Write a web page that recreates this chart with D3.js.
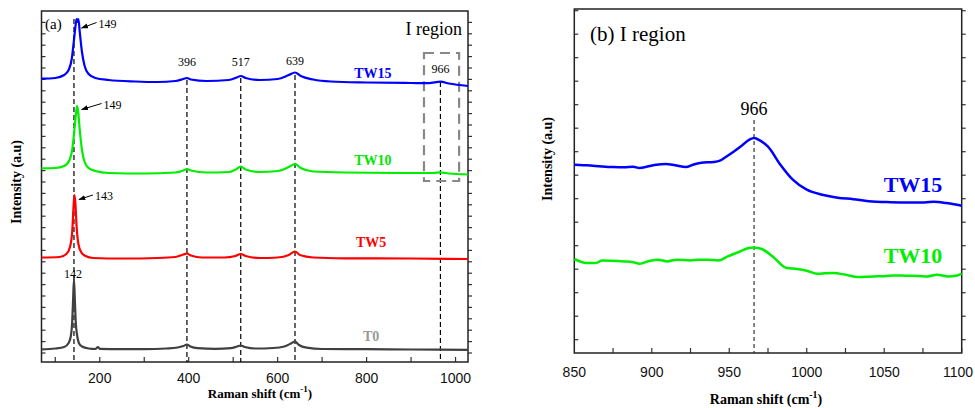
<!DOCTYPE html>
<html>
<head>
<meta charset="utf-8">
<script src="https://cdn.jsdelivr.net/npm/d3@7"></script>
<style>
  body { margin: 0; background: #fff; }
  svg { display: block; }
  .serif { font-family: "Liberation Serif", "Times New Roman", serif; }
  .sans { font-family: "Liberation Sans", Arial, sans-serif; }
</style>
</head>
<body>
<svg id="chart" width="975" height="408"></svg>
<script>
// ---------------- data : panel (a), [Raman shift, intensity a.u.] ----------------
const t0 = [[69,12.7],[100,13.5],[120,15],[130,19],[135,26],[138,40],[140,62],[142,83],[144,62],[146,40],[149,27],
  [153,19],[160,15.5],[175,13.5],[190,13],[196,15],[200,13.2],[250,12.8],[300,12.8],[350,13.5],[375,14.5],[388,16],
  [396,17.5],[404,15.5],[420,13.8],[460,13.2],[495,13.8],[509,15.5],[517,16.5],[526,15],[550,13.5],[590,14],
  [615,15.5],[630,18.5],[639,20.5],[648,17],[665,14.3],[700,13],[800,12.8],[900,12.5],[1028,12.2]];
const tw5 = [[69,104.5],[110,105],[125,108],[133,115],[138,130],[141,155],[143,167],[145,160],[148,135],[152,118],
  [158,110],[168,106],[185,104],[250,103.5],[330,104],[370,105],[388,107.5],[396,108.5],[405,106.5],[430,104.5],
  [480,104.5],[505,106],[517,108],[528,106],[560,104],[600,104.5],[625,107],[639,110.5],[650,107],[680,104.5],
  [750,103.7],[900,103.5],[1028,103]];
const tw10 = [[69,193.7],[100,194],[120,196],[132,202],[138,212],[143,232],[147,250],[149,256],[151,252],[155,232],
  [160,212],[166,200],[175,194],[190,191],[220,189],[300,188.5],[370,189.5],[388,191.5],[396,193],[405,191.5],
  [440,189.5],[490,190],[508,193],[517,195.5],[528,192.5],[560,190],[600,191],[625,195],[639,198],[652,194],
  [680,190.5],[750,189.5],[900,189],[950,189],[966,189.6],[985,188.5],[1028,187.5]];
const tw15 = [[69,283.3],[100,284],[120,287],[130,292],[137,303],[142,322],[146,338],[148,343],[150,340],[152,343],
  [155,330],[160,310],[166,296],[175,288],[190,284],[220,282],[280,280.5],[330,280],[370,281],[388,283],[396,284],
  [405,282.5],[440,281],[490,282],[508,284.5],[517,286],[528,284],[560,282],[600,283],[625,287],[639,289.5],
  [652,286],[680,282.5],[720,280.5],[800,279.5],[900,279],[940,278.8],[966,280.3],[985,278.5],[1028,276]];

const peakLinesA = [[142,343],[396,282],[517,284],[639,287],[966,280]];   // [shift, top of dashed line]
const peakLabelsA = [[396,296],[517,296],[639,297],[966,289]];            // [shift, label height]
const arrowLabels = [                                                    // [shift, peak intensity, text]
  [149,343,"149",9,15,-5.5], [149,256,"149",3.5,20,-6], [143,167,"143",4.5,14,-4.5]];
const seriesLabelsA = [["TW15",814,284,"#0000ff"],["TW10",814,197,"#00e600"],["TW5",810,115,"#ff0000"],["T0",810,21,"#999999"]];
const ticksA = [200,400,600,800,1000];
const regionBox = [929,1008,181,309];

// ---------------- data : panel (b) I region ----------------
const tw15b = [[850,188.3],[856,187.8],[862,187.3],[870,186.3],[875,186],[882,185.8],[888,186.3],[892,185],[898,186.8],
  [903,188.3],[909,189],[915,187.8],[922,186],[927,188.5],[932,190.3],[940,191],[944,192.3],[948,196.3],[953,201.6],
  [958,207.3],[963,213.3],[966,215],[970,212.3],[975,206.3],[983,188.3],[991,173.3],[1000,163.3],[1010,158.3],
  [1020,155.3],[1030,153.8],[1040,151.8],[1054,150.8],[1066,150.5],[1076,150.5],[1082,151.3],[1090,150],[1095,148.8],[1100,147.3]];
const tw10b = [[850,94],[858,90],[864,90],[868,92.6],[874,92.3],[882,91.6],[888,90.8],[892,89.3],[899,92.3],[904,93.3],
  [910,91.6],[916,93.3],[925,92.6],[930,93.3],[936,93.3],[943,92.6],[949,96.6],[957,101.6],[962,104.8],[966,105.6],
  [971,104],[978,96.6],[987,85],[994,84],[1000,82.3],[1007,79.3],[1012,79.8],[1017,80],[1025,78.3],[1033,76],
  [1043,76.6],[1050,76.8],[1056,77.5],[1064,77.3],[1072,77.1],[1078,76.6],[1084,78.3],[1091,76.6],[1097,77.5],[1100,79.3]];
const ticksB = [850,900,950,1000,1050,1100];

const svg = d3.select("#chart");

svg.append("defs").append("marker")
  .attr("id", "arrow").attr("viewBox", "0 0 10 10").attr("refX", 9).attr("refY", 5)
  .attr("markerWidth", 7).attr("markerHeight", 7).attr("orient", "auto")
  .append("path").attr("d", "M0,1.5 L10,5 L0,8.5 Z").attr("fill", "#000");

function frame(g, x, y, majors, minorStep, yStep, yStart, labelDy) {
  let [x0, x1] = x.range(), [y0, y1] = y.range();
  let minors = d3.range(x.domain()[0] - x.domain()[0] % minorStep + minorStep, x.domain()[1] + 0.01, minorStep);
  g.append("g").selectAll("line").data(minors).join("line")
    .attr("x1", d => x(d)).attr("x2", d => x(d)).attr("y1", y0).attr("y2", y0 - 5)
    .attr("stroke", "#333").attr("stroke-width", 1.2);
  let yt = d3.range(yStart, y.domain()[1], yStep);
  g.append("g").selectAll("line").data(yt).join("line")
    .attr("x1", x0).attr("x2", x0 + 4).attr("y1", d => y(d)).attr("y2", d => y(d))
    .attr("stroke", "#333").attr("stroke-width", 1.2);
  g.append("g").selectAll("line").data(yt).join("line")
    .attr("x1", x1).attr("x2", x1 + 4).attr("y1", d => y(d)).attr("y2", d => y(d))
    .attr("stroke", "#333").attr("stroke-width", 1.2);
  g.append("rect").attr("x", x0).attr("y", y1).attr("width", x1 - x0).attr("height", y0 - y1)
    .attr("fill", "none").attr("stroke", "#222").attr("stroke-width", 1.5);
  g.append("g").selectAll("text").data(majors).join("text")
    .attr("class", "sans").attr("x", d => Math.min(x(d), 958)).attr("y", y0 + labelDy)
    .attr("text-anchor", "middle").attr("font-size", 14).attr("fill", "#111").text(d => d);
}

function xTitle(g, cx, y, size) {
  let t = g.append("text").attr("class", "serif").attr("x", cx).attr("y", y)
    .attr("text-anchor", "middle").attr("font-size", size).attr("font-weight", "bold");
  t.append("tspan").text("Raman shift (cm");
  t.append("tspan").attr("dy", -6).attr("font-size", size * 0.7).text("-1");
  t.append("tspan").attr("dy", 6).text(")");
}

function yTitle(g, x, cy) {
  g.append("text").attr("class", "serif").attr("transform", `translate(${x},${cy}) rotate(-90)`)
    .attr("text-anchor", "middle").attr("dominant-baseline", "central")
    .attr("font-size", 14).attr("font-weight", "bold").text("Intensity (a.u)");
}

// ---------------- panel (a) ----------------
const xa = d3.scaleLinear().domain([69, 1028]).range([41.5, 468]);
const ya = d3.scaleLinear().domain([0, 351]).range([362, 11]);
const ga = svg.append("g");

frame(ga, xa, ya, ticksA, 100, 11.4, 9, 21);

ga.append("g").selectAll("line").data(peakLinesA).join("line")
  .attr("x1", d => xa(d[0])).attr("x2", d => xa(d[0]))
  .attr("y1", d => ya(d[1])).attr("y2", ya(0))
  .attr("stroke", "#000").attr("stroke-width", 1.2).attr("stroke-dasharray", "5,3");

ga.append("rect")
  .attr("x", xa(regionBox[0])).attr("y", ya(regionBox[3]))
  .attr("width", xa(regionBox[1]) - xa(regionBox[0])).attr("height", ya(regionBox[2]) - ya(regionBox[3]))
  .attr("fill", "none").attr("stroke", "#888").attr("stroke-width", 2.2).attr("stroke-dasharray", "10,6");

const lineA = d3.line().x(d => xa(d[0])).y(d => ya(d[1])).curve(d3.curveMonotoneX);
[[t0, "#404040"], [tw5, "#ff0000"], [tw10, "#00ee00"], [tw15, "#0000ff"]].forEach(([s, c]) => {
  ga.append("path").datum(s).attr("d", lineA).attr("fill", "none")
    .attr("stroke", c).attr("stroke-width", 2.2).attr("stroke-linejoin", "round");
});

ga.append("g").selectAll("text").data(peakLabelsA).join("text")
  .attr("class", "serif").attr("x", d => xa(d[0])).attr("y", d => ya(d[1]))
  .attr("text-anchor", "middle").attr("font-size", 12).text(d => d[0]);

ga.append("text").attr("class", "serif").attr("x", xa(142) - 1).attr("y", 278)
  .attr("text-anchor", "middle").attr("font-size", 12).text("142");

arrowLabels.forEach(([sx, si, txt, dy, dx, ly]) => {
  let tipX = xa(sx) + 4.5, tipY = ya(si) + dy;
  ga.append("line").attr("x1", tipX + dx).attr("y1", tipY + ly).attr("x2", tipX).attr("y2", tipY)
    .attr("stroke", "#000").attr("stroke-width", 1).attr("marker-end", "url(#arrow)");
  ga.append("text").attr("class", "serif").attr("x", tipX + dx + 2).attr("y", tipY + ly + 5)
    .attr("font-size", 12).text(txt);
});

ga.append("g").selectAll("text").data(seriesLabelsA).join("text")
  .attr("class", "serif").attr("x", d => xa(d[1])).attr("y", d => ya(d[2]))
  .attr("text-anchor", "middle").attr("font-size", 14).attr("font-weight", "bold")
  .attr("fill", d => d[3]).text(d => d[0]);

ga.append("text").attr("class", "serif").attr("x", 45).attr("y", 29).attr("font-size", 15).text("(a)");
ga.append("text").attr("class", "serif").attr("x", 462).attr("y", 35)
  .attr("text-anchor", "end").attr("font-size", 18).text("I region");

xTitle(ga, 260, 398, 13);
yTitle(ga, 16.5, 182);

// ---------------- panel (b) ----------------
const xb = d3.scaleLinear().domain([850, 1100]).range([574.3, 961.7]);
const yb = d3.scaleLinear().domain([0, 344]).range([353, 9]);
const gb = svg.append("g");

frame(gb, xb, yb, ticksB, 25, 23.5, 13.3, 24);

gb.append("line").attr("x1", xb(966)).attr("x2", xb(966)).attr("y1", 120).attr("y2", yb(0))
  .attr("stroke", "#333").attr("stroke-width", 1.2).attr("stroke-dasharray", "4,3");

const lineB = d3.line().x(d => xb(d[0])).y(d => yb(d[1])).curve(d3.curveMonotoneX);
[[tw10b, "#00ee00"], [tw15b, "#0000ff"]].forEach(([s, c]) => {
  gb.append("path").datum(s).attr("d", lineB).attr("fill", "none")
    .attr("stroke", c).attr("stroke-width", 2.5).attr("stroke-linejoin", "round");
});

gb.append("text").attr("class", "serif").attr("x", xb(966)).attr("y", 115)
  .attr("text-anchor", "middle").attr("font-size", 18).text("966");
gb.append("text").attr("class", "serif").attr("x", 590).attr("y", 41).attr("font-size", 21).text("(b) I region");
gb.append("text").attr("class", "serif").attr("x", 913).attr("y", 191.5).attr("text-anchor", "middle")
  .attr("font-size", 22).attr("font-weight", "bold").attr("fill", "#0000ff").text("TW15");
gb.append("text").attr("class", "serif").attr("x", 913).attr("y", 263).attr("text-anchor", "middle")
  .attr("font-size", 22).attr("font-weight", "bold").attr("fill", "#00ee00").text("TW10");

xTitle(gb, 766, 404, 14);
yTitle(gb, 547.5, 159);
</script>
</body>
</html>
